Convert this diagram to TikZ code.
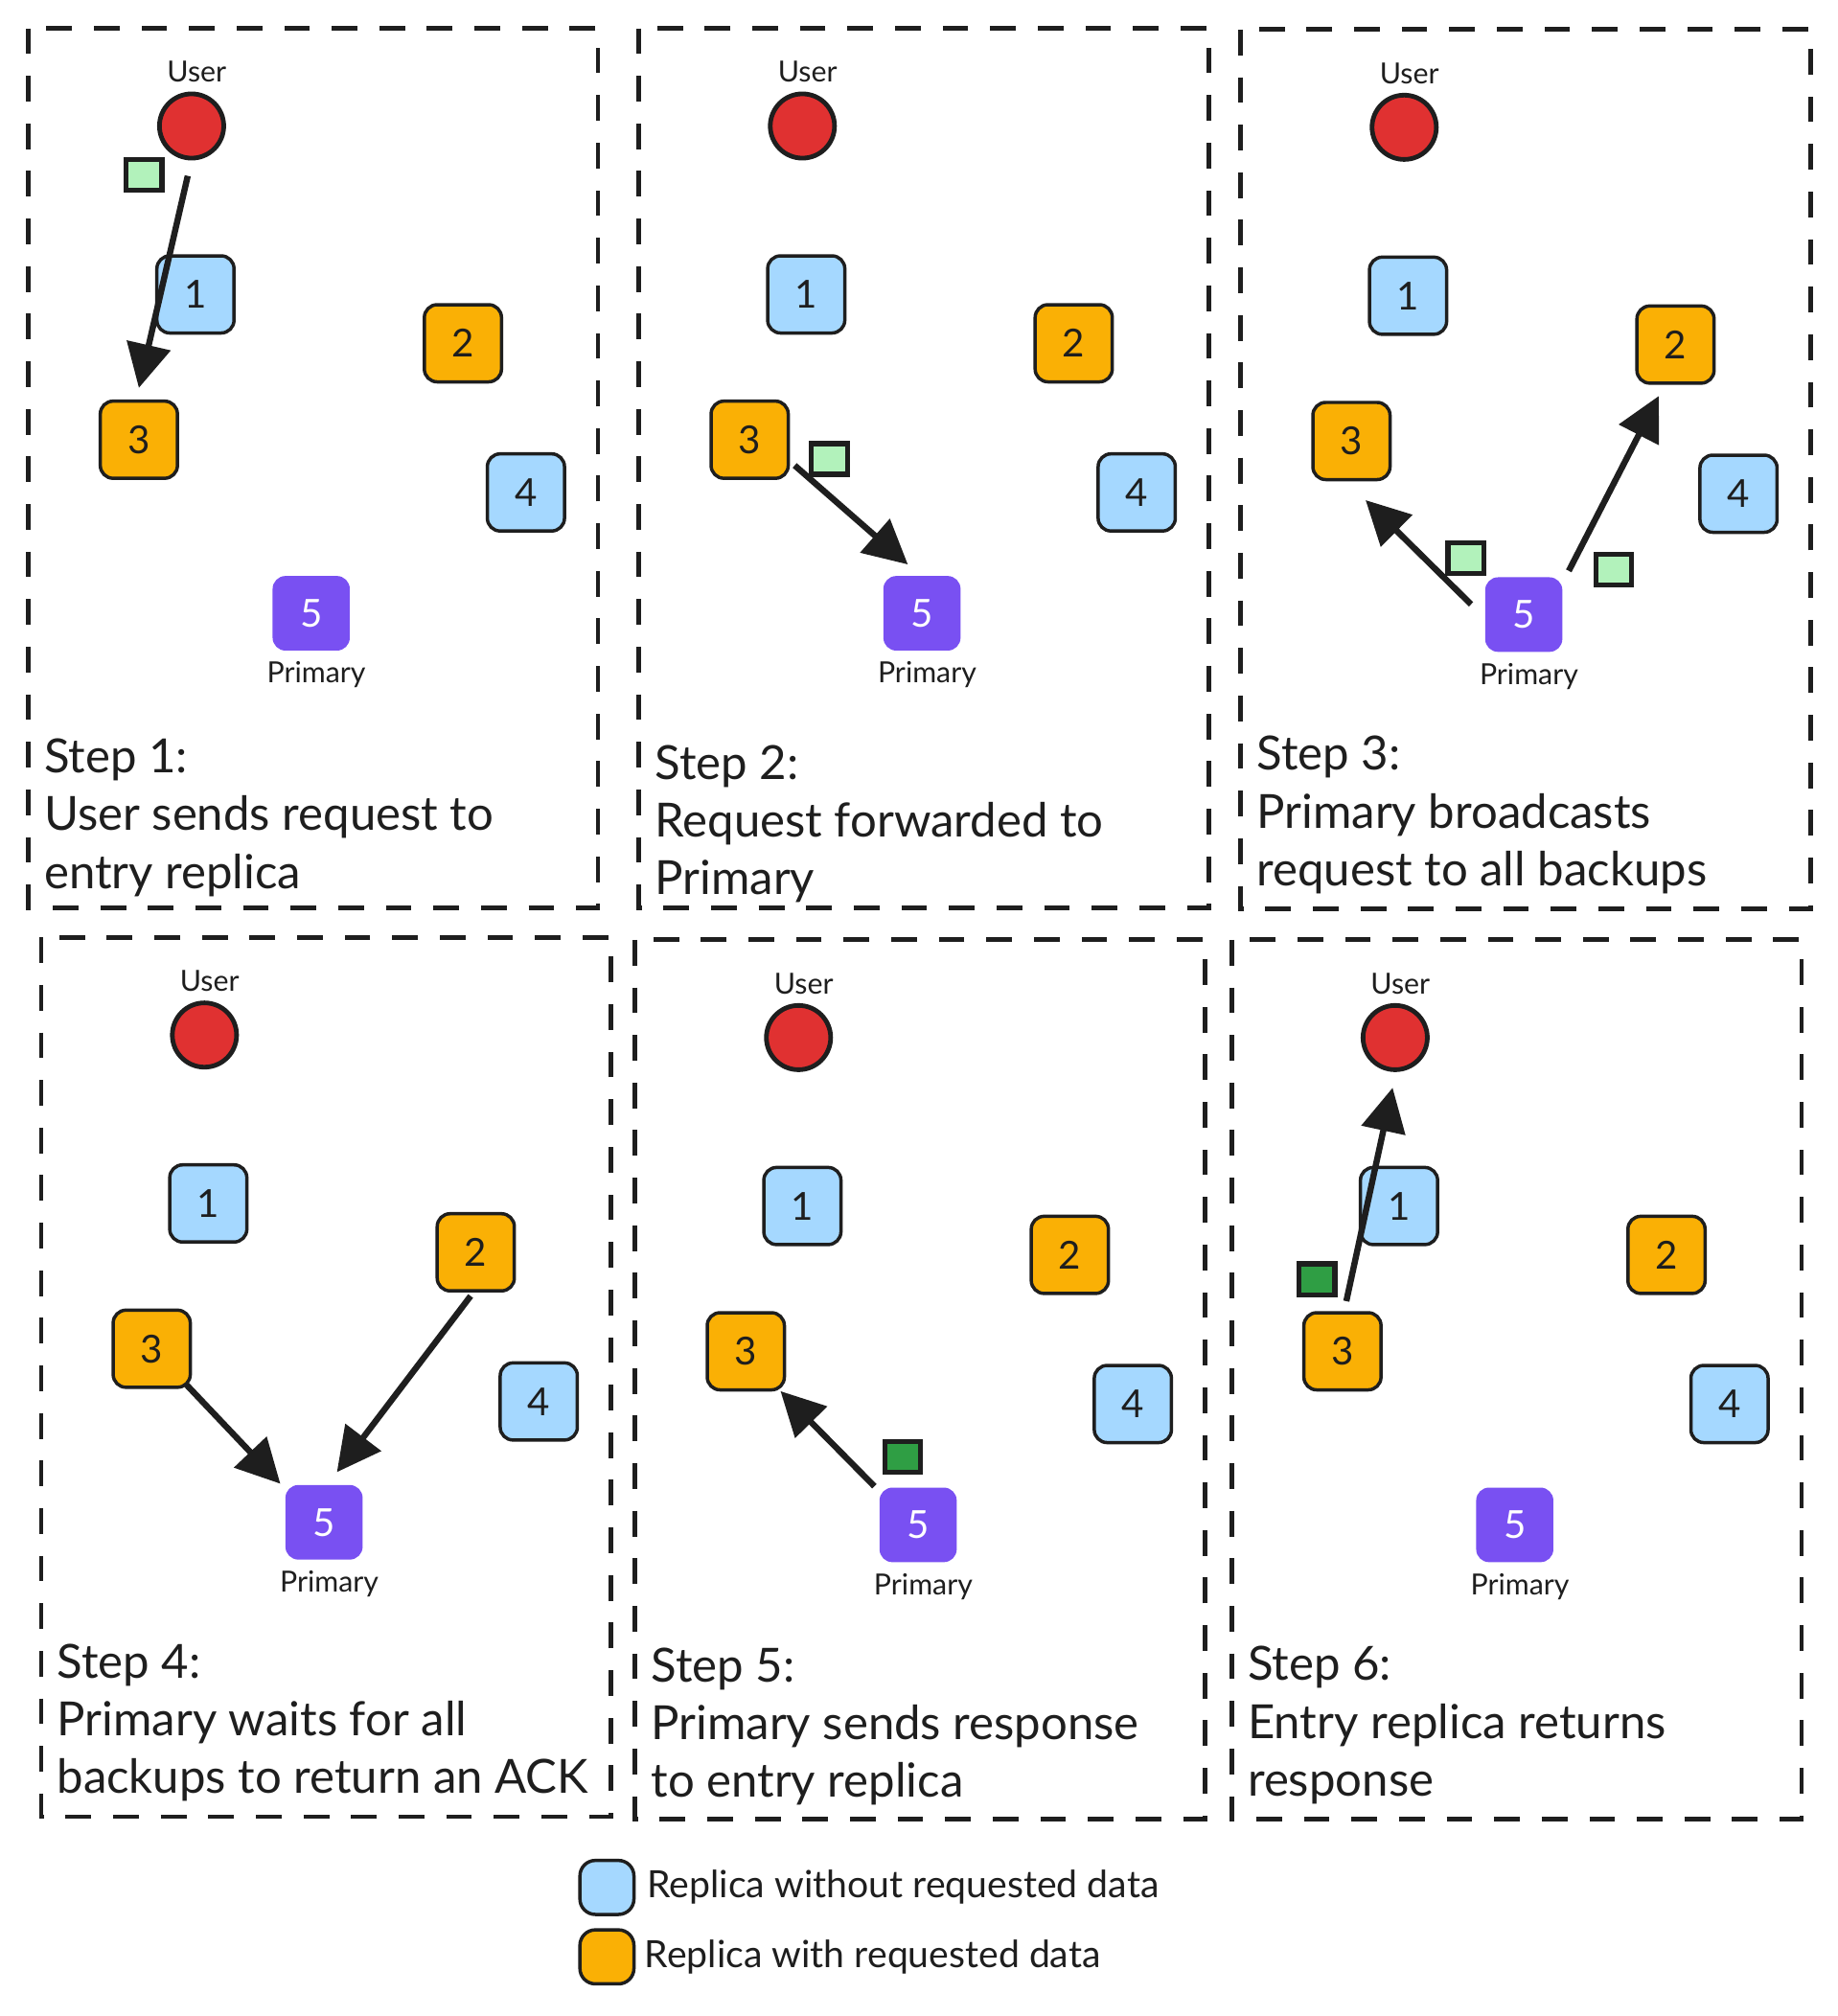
\documentclass[tikz,border=0pt]{standalone}
\usepackage{fontspec}
\setmainfont{Lato}
\usetikzlibrary{arrows.meta}
\definecolor{cblue}{HTML}{A5D8FF}
\definecolor{corange}{HTML}{FAB005}
\definecolor{cred}{HTML}{E03131}
\definecolor{cpurple}{HTML}{7950F2}
\definecolor{clgreen}{HTML}{B2F2BB}
\definecolor{cdgreen}{HTML}{2F9E44}
\definecolor{cink}{HTML}{1E1E1E}
\tikzset{
  replica/.style={draw=cink, line width=1.3pt, rounded corners=5pt, minimum width=30pt, minimum height=30pt, font=\fontsize{15}{17}\selectfont, text=cink, inner sep=0pt},
  bluebox/.style={replica, fill=cblue},
  orangebox/.style={replica, fill=corange},
  primarybox/.style={fill=cpurple, rounded corners=5pt, minimum width=30pt, minimum height=29pt, text=white, font=\fontsize{15}{17}\selectfont, inner sep=0pt},
  usernode/.style={circle, draw=cink, line width=1.8pt, fill=cred, minimum size=25pt, inner sep=0pt},
  hand/.style={font=\fontsize{11.3}{13}\selectfont, text=cink, inner sep=0pt},
  msg/.style={draw=cink, line width=2pt, minimum width=14pt, minimum height=12pt, inner sep=0pt},
  req/.style={msg, fill=clgreen},
  resp/.style={msg, fill=cdgreen},
  flow/.style={draw=cink, line width=2.4pt, -{Triangle[length=17pt,width=17pt]}},
  panelframe/.style={draw=cink, line width=1.8pt, dash pattern=on 10pt off 8.5pt},
  steptext/.style={font=\fontsize{18.3}{22.5}\selectfont, text=cink, anchor=base west, inner sep=0pt},
  legendtext/.style={font=\fontsize{14.6}{17}\selectfont, text=cink, anchor=west, inner sep=0pt},
}
\newcommand\basepanel[1]{%
  \draw[panelframe] (22,22) rectangle (465,706);
  \node[usernode] (#1u) at (149,98) {};
  \node[hand] (#1ul) at (153,56) {User};
  \node[bluebox] (#1b1) at (152,229) {1};
  \node[orangebox] (#1b2) at (360,267) {2};
  \node[orangebox] (#1b3) at (108,342) {3};
  \node[bluebox] (#1b4) at (409,383) {4};
  \node[primarybox] (#1b5) at (242,477) {5};
  \node[hand] (#1pl) at (246,525) {Primary};
}
\begin{document}
\begin{tikzpicture}[x=0.5pt,y=-0.5pt]
\useasboundingbox[fill=white] (0,0) rectangle (1429,1568);

% Panel 1
\begin{scope}[shift={(0,0)}]
  \basepanel{a}
  \node[req] (am) at (112,136) {};
  \draw[flow] ([shift={(-3,12)}]au.south) -- ([shift={(0,-9)}]ab3.north);
  \node[steptext] (at1) at (34,601) {Step 1:};
  \node[steptext] (at2) at (34,646) {User sends request to};
  \node[steptext] (at3) at (34,691) {entry replica};
\end{scope}

% Panel 2
\begin{scope}[shift={(475,0)}]
  \basepanel{b}
  \node[req] (bm) at (170,357) {};
  \draw[flow] ([shift={(35,20)}]bb3.center) -- ([shift={(-11,-38)}]bb5.center);
  \node[steptext] (bt1) at (34,606) {Step 2:};
  \node[steptext] (bt2) at (34,651) {Request forwarded to};
  \node[steptext] (bt3) at (34,696) {Primary};
\end{scope}

% Panel 3
\begin{scope}[shift={(943,1)}]
  \basepanel{c}
  \node[req] (cm1) at (197,433) {};
  \node[req] (cm2) at (312,442) {};
  \draw[flow] ([shift={(-41,-8)}]cb5.center) -- ([shift={(11,46)}]cb3.center);
  \draw[flow] ([shift={(35,-34)}]cb5.center) -- ([shift={(-13,40)}]cb2.center);
  \node[steptext] (ct1) at (34,598) {Step 3:};
  \node[steptext] (ct2) at (34,643) {Primary broadcasts};
  \node[steptext] (ct3) at (34,688) {request to all backups};
\end{scope}

% Panel 4
\begin{scope}[shift={(10,707)}]
  \basepanel{d}
  \draw[flow] ([shift={(27,28)}]db3.center) -- ([shift={(-34,-30)}]db5.center);
  \draw[flow] ([shift={(-4,34)}]db2.center) -- ([shift={(10,-39)}]db5.center);
  \node[steptext] (dt1) at (34,598) {Step 4:};
  \node[steptext] (dt2) at (34,643) {Primary waits for all};
  \node[steptext] (dt3) at (34,688) {backups to return an ACK};
\end{scope}

% Panel 5
\begin{scope}[shift={(472,709)}]
  \basepanel{e}
  \node[resp] (em) at (230,424) {};
  \draw[flow] ([shift={(-34,-30)}]eb5.center) -- ([shift={(27,31)}]eb3.center);
  \node[steptext] (et1) at (34,599) {Step 5:};
  \node[steptext] (et2) at (34,644) {Primary sends response};
  \node[steptext] (et3) at (34,689) {to entry replica};
\end{scope}

% Panel 6
\begin{scope}[shift={(936,709)}]
  \basepanel{f}
  \node[resp] (fm) at (88,286) {};
  \draw[flow] ([shift={(3,-39)}]fb3.center) -- ([shift={(-2,39)}]fu.center);
  \node[steptext] (ft1) at (34,598) {Step 6:};
  \node[steptext] (ft2) at (34,643) {Entry replica returns};
  \node[steptext] (ft3) at (34,688) {response};
\end{scope}

% Legend
\node[bluebox, minimum width=21pt, minimum height=21pt, rounded corners=6pt] (lg1) at (472,1468) {};
\node[legendtext] (lg1t) at (503,1468) {Replica without requested data};
\node[orangebox, minimum width=21pt, minimum height=21pt, rounded corners=6pt] (lg2) at (472,1522) {};
\node[legendtext] (lg2t) at (501,1522) {Replica with requested data};
\end{tikzpicture}
\end{document}
